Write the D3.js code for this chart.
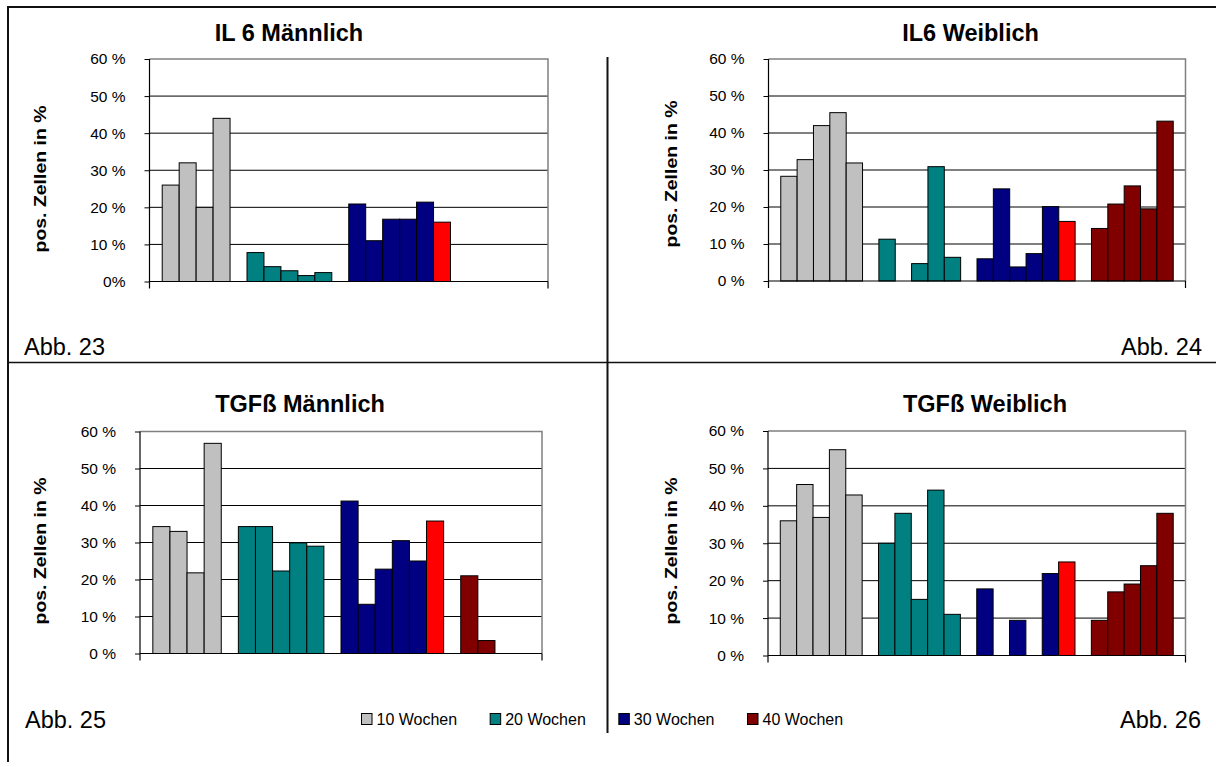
<!DOCTYPE html>
<html>
<head>
<meta charset="utf-8">
<script src="https://cdn.jsdelivr.net/npm/d3@7"></script>
<style>
  html, body { margin: 0; padding: 0; background: #fff; }
  svg { display: block; }
  text { font-family: Arial, "Liberation Sans", sans-serif; fill: #000; }
</style>
</head>
<body>
<svg id="chart" width="1216" height="767"></svg>
<script>
// ---------- DATA ----------
const groupNames = ["10 Wochen", "20 Wochen", "30 Wochen", "40 Wochen"];
const yTicks = [0, 0.1, 0.2, 0.3, 0.4, 0.5, 0.6];

// IL 6 Männlich (values in %)
const IL6_M_10 = [26, 32, 20, 44];
const IL6_M_20 = [7.8, 4.0, 2.9, 1.6, 2.4];
const IL6_M_30 = [20.9, 11.0, 16.8, 16.8, 21.4, 16.0];
const IL6_M_40 = [null, null, null, null];

// IL6 Weiblich
const IL6_W_10 = [28.3, 32.8, 42.0, 45.5, 31.9];
const IL6_W_20 = [11.3, null, 4.7, 30.9, 6.4];
const IL6_W_30 = [6.0, 24.9, 3.8, 7.4, 20.1, 16.1];
const IL6_W_40 = [14.2, 20.8, 25.7, 19.5, 43.2];

// TGFß Männlich
const TGF_M_10 = [34.3, 33.0, 21.8, 56.8];
const TGF_M_20 = [34.3, 34.3, 22.3, 29.9, 29.0];
const TGF_M_30 = [41.2, 13.3, 22.8, 30.5, 25.0, 35.8];
const TGF_M_40 = [21.0, 3.5, null, null];

// TGFß Weiblich
const TGF_W_10 = [36.0, 45.7, 36.9, 55.0, 42.9];
const TGF_W_20 = [30.0, 38.0, 15.0, 44.2, 11.0];
const TGF_W_30 = [17.8, null, 9.4, null, 21.9, 25.0];
const TGF_W_40 = [9.4, 17.0, 19.1, 24.0, 38.0];

// the last bar of the 30-week group is highlighted
const highlightGroup = 2;
const highlightIndex = 5;

// ---------- STYLE / LAYOUT ----------
const groupColors = ["#C0C0C0", "#008080", "#000080", "#800000"];
const highlightColor = "#FF0000";
const FONT = 'Arial, "Liberation Sans", sans-serif';

const panels = [
  { title: "IL 6 Männlich", groups: [IL6_M_10, IL6_M_20, IL6_M_30, IL6_M_40],
    x0: 149.5, x1: 548, yTop: 59, yBot: 281.5, titleX: 289, titleY: 41,
    labelX: 46, labelY: 179, zeroLabel: "0%",
    abb: "Abb. 23", abbX: 24, abbY: 355, abbAnchor: "start" },
  { title: "IL6 Weiblich", groups: [IL6_W_10, IL6_W_20, IL6_W_30, IL6_W_40],
    x0: 768.5, x1: 1185.5, yTop: 59, yBot: 281, titleX: 970.5, titleY: 41,
    labelX: 676.5, labelY: 174, zeroLabel: "0 %",
    abb: "Abb. 24", abbX: 1202, abbY: 355, abbAnchor: "end" },
  { title: "TGFß Männlich", groups: [TGF_M_10, TGF_M_20, TGF_M_30, TGF_M_40],
    x0: 140, x1: 542, yTop: 431.5, yBot: 653.5, titleX: 300, titleY: 412,
    labelX: 46, labelY: 551, zeroLabel: "0 %",
    abb: "Abb. 25", abbX: 25, abbY: 727.5, abbAnchor: "start" },
  { title: "TGFß Weiblich", groups: [TGF_W_10, TGF_W_20, TGF_W_30, TGF_W_40],
    x0: 768, x1: 1185.5, yTop: 431, yBot: 655.5, titleX: 985, titleY: 412,
    labelX: 676.5, labelY: 551, zeroLabel: "0 %",
    abb: "Abb. 26", abbX: 1201, abbY: 727.5, abbAnchor: "end" }
];

const svg = d3.select("#chart");

// ---------- FRAME LINES ----------
const frame = svg.append("g").attr("stroke", "#111").attr("fill", "none");
frame.append("line").attr("x1", 7).attr("x2", 1216).attr("y1", 7).attr("y2", 7).attr("stroke-width", 2);
frame.append("line").attr("x1", 8).attr("x2", 8).attr("y1", 6).attr("y2", 762).attr("stroke-width", 2);
frame.append("line").attr("x1", 8).attr("x2", 1216).attr("y1", 362.5).attr("y2", 362.5).attr("stroke-width", 1.6);
frame.append("line").attr("x1", 607.5).attr("x2", 607.5).attr("y1", 57).attr("y2", 733).attr("stroke-width", 2);

// ---------- PANELS ----------
panels.forEach(p => {
  const g = svg.append("g");

  // build slot list: groups separated by one empty slot
  const slots = [];
  p.groups.forEach((arr, gi) => {
    if (gi > 0) slots.push({ value: null, group: gi, gap: true });
    arr.forEach((v, i) => slots.push({
      value: v, group: gi, index: i, gap: false
    }));
  });

  const x = d3.scaleBand()
    .domain(d3.range(slots.length))
    .range([p.x0, p.x1])
    .paddingInner(0)
    .paddingOuter(0.75);

  const y = d3.scaleLinear().domain([0, 0.6]).range([p.yBot, p.yTop]);

  // gridlines
  g.append("g").selectAll("line")
    .data(yTicks.filter(t => t > 0 && t < 0.6))
    .join("line")
    .attr("x1", p.x0).attr("x2", p.x1)
    .attr("y1", d => y(d)).attr("y2", d => y(d))
    .attr("stroke", "#000").attr("stroke-width", 1);

  // plot border (top + right) in grey
  g.append("path")
    .attr("d", `M${p.x0},${y(0.6)}H${p.x1}V${y(0)}`)
    .attr("fill", "none").attr("stroke", "#808080").attr("stroke-width", 1.5);

  // bars
  g.append("g").selectAll("rect")
    .data(slots.map((s, i) => ({ ...s, slot: i })).filter(s => s.value != null))
    .join("rect")
    .attr("x", d => x(d.slot))
    .attr("width", x.bandwidth())
    .attr("y", d => y(d.value / 100))
    .attr("height", d => y(0) - y(d.value / 100))
    .attr("fill", d => (d.group === highlightGroup && d.index === highlightIndex) ? highlightColor : groupColors[d.group])
    .attr("stroke", "#000").attr("stroke-width", 1);

  // y axis
  const yAxis = d3.axisLeft(y)
    .tickValues(yTicks)
    .tickSize(5)
    .tickPadding(19)
    .tickFormat(d => d === 0 ? p.zeroLabel : Math.round(d * 100) + " %");
  const ya = g.append("g").attr("transform", `translate(${p.x0},0)`).call(yAxis);
  ya.select(".domain").remove();
  ya.selectAll(".tick line").attr("stroke", "#000");
  ya.selectAll(".tick text").attr("font-size", 15.5).attr("font-family", FONT).attr("fill", "#000");

  // axis lines
  g.append("line").attr("x1", p.x0).attr("x2", p.x0).attr("y1", y(0.6)).attr("y2", y(0) + 7)
    .attr("stroke", "#000").attr("stroke-width", 1.2);
  g.append("line").attr("x1", p.x0).attr("x2", p.x1).attr("y1", y(0)).attr("y2", y(0))
    .attr("stroke", "#000").attr("stroke-width", 1.2);
  g.append("line").attr("x1", p.x1).attr("x2", p.x1).attr("y1", y(0)).attr("y2", y(0) + 7)
    .attr("stroke", "#000").attr("stroke-width", 1.2);

  // title
  g.append("text")
    .attr("x", p.titleX).attr("y", p.titleY)
    .attr("text-anchor", "middle")
    .attr("font-size", 23.5).attr("font-weight", "bold")
    .text(p.title);

  // y-axis title
  g.append("text")
    .attr("transform", `translate(${p.labelX},${p.labelY}) rotate(-90)`)
    .attr("text-anchor", "middle")
    .attr("font-size", 16.5).attr("font-weight", "bold")
    .attr("textLength", 147).attr("lengthAdjust", "spacingAndGlyphs")
    .text("pos. Zellen in %");

  // Abb. label
  g.append("text")
    .attr("x", p.abbX).attr("y", p.abbY)
    .attr("text-anchor", p.abbAnchor)
    .attr("font-size", 23.5)
    .text(p.abb);
});

// ---------- LEGEND ----------
const legendX = d3.scaleLinear().domain([0, 3]).range([361.5, 747.5]);
const lg = svg.append("g").selectAll("g")
  .data(groupNames)
  .join("g")
  .attr("transform", (d, i) => `translate(${legendX(i)},713.5)`);
lg.append("rect")
  .attr("width", 10.5).attr("height", 11)
  .attr("fill", (d, i) => groupColors[i])
  .attr("stroke", "#000").attr("stroke-width", 1);
lg.append("text")
  .attr("x", 15).attr("y", 11)
  .attr("font-size", 16)
  .text(d => d);
</script>
</body>
</html>
